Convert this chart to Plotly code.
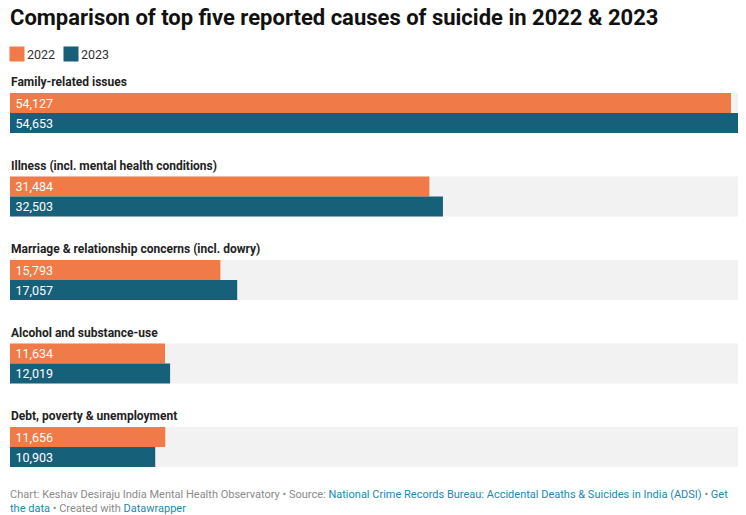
import plotly.graph_objects as go

# %% data
causes = [
    "Family-related issues",
    "Illness (incl. mental health conditions)",
    "Marriage & relationship concerns (incl. dowry)",
    "Alcohol and substance-use",
    "Debt, poverty & unemployment",
]
values_2022 = [54127, 31484, 15793, 11634, 11656]
values_2023 = [54653, 32503, 17057, 12019, 10903]
years = ["2022", "2023"]

color_2022 = "#f07a48"
color_2023 = "#17607a"
color_bg = "#f2f2f2"

# %% layout helpers (y measured in pixels from the top of the page)
W, H = 746, 515
left = 10
top, bottom = 60, 475
step = 83.5
label_y = [82 + i * step for i in range(len(causes))]
y_2022 = [103 + i * step for i in range(len(causes))]
y_2023 = [123 + i * step for i in range(len(causes))]
y_bg = [113 + i * step for i in range(len(causes))]
x_max = max(values_2022 + values_2023)

fig = go.Figure()

fig.add_trace(go.Bar(
    x=[x_max] * len(causes), y=y_bg, width=40, orientation="h",
    marker=dict(color=color_bg, line=dict(width=0)),
    showlegend=False, hoverinfo="skip",
))
for name, vals, ys, col in [(years[0], values_2022, y_2022, color_2022),
                            (years[1], values_2023, y_2023, color_2023)]:
    fig.add_trace(go.Bar(
        x=vals, y=ys, width=20, orientation="h", name=name,
        marker=dict(color=col, line=dict(width=0)),
        texttemplate="\u2009%{x:,}", textposition="inside", insidetextanchor="start",
        constraintext="none",
        textfont=dict(family="Roboto", size=12.5, color="white"),
        showlegend=False,
    ))

# category labels
for cause, ly in zip(causes, label_y):
    fig.add_annotation(
        x=0, xref="paper", y=ly, yref="y", text="<b>%s</b>" % cause,
        showarrow=False, xanchor="left", yanchor="middle", xshift=-1,
        font=dict(family="Roboto", size=12, color="#222222"),
    )

def paper_y(pix):
    return (bottom - pix) / (bottom - top)

# title
fig.add_annotation(
    x=0, xref="paper", y=paper_y(18), yref="paper", xshift=-2,
    text="<b>Comparison of top five reported causes of suicide in 2022 & 2023</b>",
    showarrow=False, xanchor="left", yanchor="middle",
    font=dict(family="Roboto", size=22, color="#111111"),
)

# legend: colour keys and year labels
for year, col, sq_x, txt_x in [(years[0], color_2022, 9, 26), (years[1], color_2023, 63, 80)]:
    fig.add_annotation(
        x=0, xref="paper", y=paper_y(54), yref="paper", xshift=sq_x - left,
        text=" ", width=14, height=14, bgcolor=col, borderpad=0,
        showarrow=False, xanchor="left", yanchor="middle",
        font=dict(size=2),
    )
    fig.add_annotation(
        x=0, xref="paper", y=paper_y(54), yref="paper", xshift=txt_x - left - 1,
        text=year, showarrow=False, xanchor="left", yanchor="middle",
        font=dict(family="Roboto", size=12.5, color="#333333"),
    )

# footer
link = "#1d87b5"
footer = ("Chart: Keshav Desiraju India Mental Health Observatory • Source: "
          "<span style='color:%s'>National Crime Records Bureau: Accidental Deaths &amp; Suicides in India (ADSI)</span>"
          " • <span style='color:%s'>Get</span><br>"
          "<span style='color:%s'>the data</span> • Created with "
          "<span style='color:%s'>Datawrapper</span>") % (link, link, link, link)
fig.add_annotation(
    x=0, xref="paper", y=paper_y(486), yref="paper", xshift=-2,
    text=footer, showarrow=False, xanchor="left", yanchor="top", align="left",
    font=dict(family="Roboto", size=11, color="#8a8a8a"),
)

fig.update_layout(
    width=W, height=H,
    margin=dict(l=left, r=8, t=top, b=H - bottom, pad=0),
    paper_bgcolor="white", plot_bgcolor="white",
    barmode="overlay", showlegend=False,
    font=dict(family="Roboto", size=12, color="#333333"),
    xaxis=dict(range=[0, x_max], visible=False, fixedrange=True),
    yaxis=dict(range=[bottom, top], visible=False, fixedrange=True),
)

# page body has a default 8px margin; drop it so the chart sits at the corner
fig.write_html("out.html", config={"displayModeBar": False},
               post_script="document.body.style.margin='0';")
